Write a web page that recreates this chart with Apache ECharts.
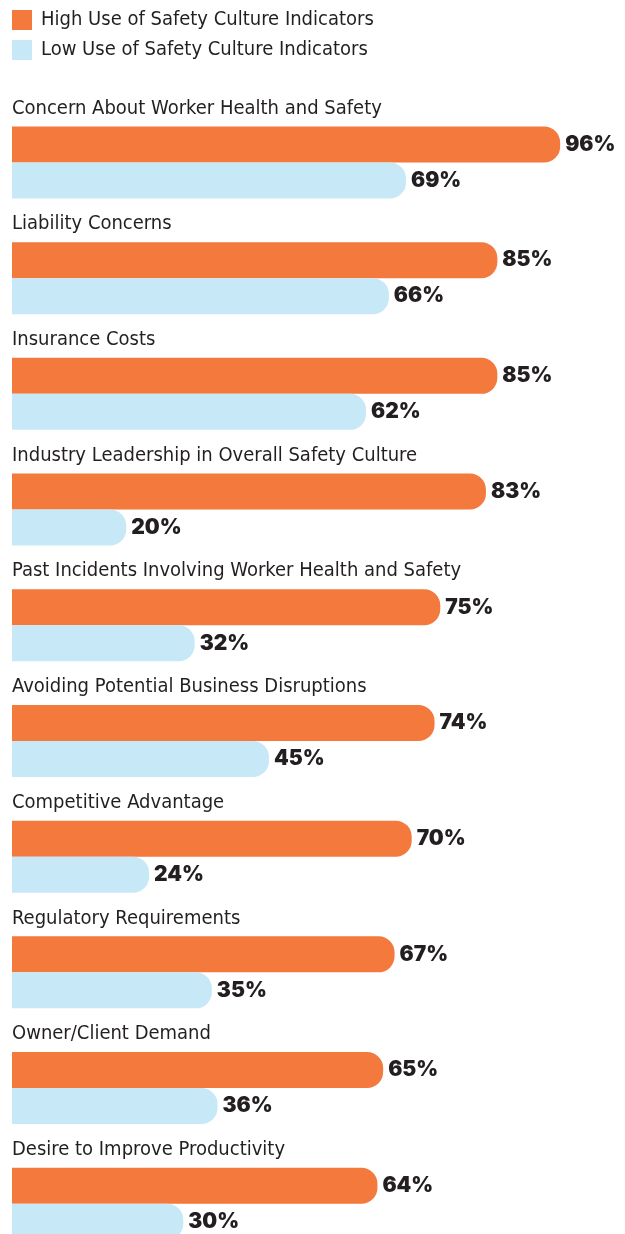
<!DOCTYPE html>
<html>
<head>
<meta charset="utf-8">
<script src="https://cdn.jsdelivr.net/npm/echarts@6/dist/echarts.min.js"></script>
<style>
  html, body { margin: 0; padding: 0; background: #ffffff; }
  #chart { width: 625px; height: 1234px; }
</style>
</head>
<body>
<div id="chart"></div>
<script>
// Reasons for tracking safety culture, by level of indicator use
const categories = [
  'Concern About Worker Health and Safety',
  'Liability Concerns',
  'Insurance Costs',
  'Industry Leadership in Overall Safety Culture',
  'Past Incidents Involving Worker Health and Safety',
  'Avoiding Potential Business Disruptions',
  'Competitive Advantage',
  'Regulatory Requirements',
  'Owner/Client Demand',
  'Desire to Improve Productivity'
];
const highUse = [96, 85, 85, 83, 75, 74, 70, 67, 65, 64];
const lowUse = [69, 66, 62, 20, 32, 45, 24, 35, 36, 30];
const seriesNames = ['High Use of Safety Culture Indicators', 'Low Use of Safety Culture Indicators'];

const ORANGE = '#F3793D';
const BLUE = '#C7E8F6';
const TEXT = '#231F20';
const NARROW = "'Liberation Sans Narrow', 'DejaVu Sans Condensed', 'Roboto', sans-serif";
const HEAVY = "'Inter', 'Liberation Sans', sans-serif";

const valueLabel = {
  show: true,
  position: 'right',
  distance: 5,
  formatter: '{c}%',
  color: TEXT,
  fontFamily: HEAVY,
  fontWeight: 900,
  fontSize: 21
};

const chart = echarts.init(document.getElementById('chart'), null, { renderer: 'canvas' });
chart.setOption({
  animation: false,
  backgroundColor: '#ffffff',
  legend: {
    orient: 'vertical',
    left: 12,
    top: 10,
    itemWidth: 20,
    itemHeight: 20,
    itemGap: 10,
    icon: 'rect',
    padding: 0,
    textStyle: { color: TEXT, fontFamily: NARROW, fontSize: 20, padding: [0, 0, 0, 4] },
    data: seriesNames
  },
  // the last pair of bars runs slightly past the bottom edge
  grid: { left: 12, top: 104.6, right: 42, bottom: -27.6, containLabel: false, outerBoundsMode: 'none' },
  xAxis: {
    type: 'value',
    min: 0,
    max: 100,
    show: false
  },
  yAxis: {
    type: 'category',
    inverse: true,
    data: categories,
    axisLine: { show: false },
    axisTick: { show: false },
    splitLine: { show: false },
    axisLabel: {
      inside: true,
      interval: 0,
      showMinLabel: true,
      showMaxLabel: true,
      margin: 0,
      align: 'left',
      verticalAlign: 'middle',
      lineHeight: 36,
      // category name sits on the first of four lines, above its pair of bars
      formatter: (value) => value + '\n\n\n ',
      color: TEXT,
      fontFamily: NARROW,
      fontSize: 20
    }
  },
  series: [
    {
      name: seriesNames[0],
      type: 'bar',
      data: highUse,
      barWidth: 36,
      barGap: '0%',
      itemStyle: { color: ORANGE, borderRadius: [0, 16, 16, 0] },
      label: valueLabel
    },
    {
      name: seriesNames[1],
      type: 'bar',
      data: lowUse,
      barWidth: 36,
      barGap: '0%',
      itemStyle: { color: BLUE, borderRadius: [0, 16, 16, 0] },
      label: valueLabel
    }
  ]
});
</script>
</body>
</html>
